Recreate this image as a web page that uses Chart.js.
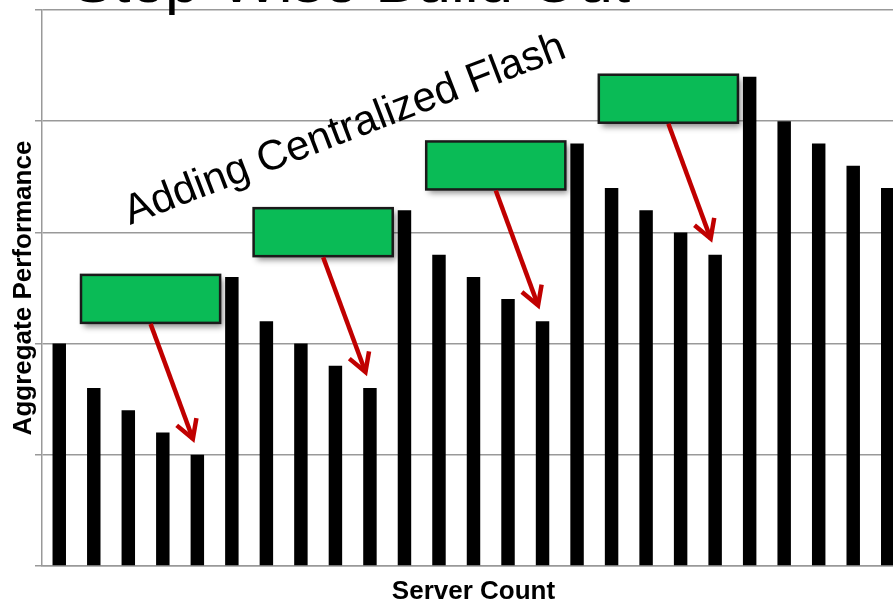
<!DOCTYPE html>
<html>
<head>
<meta charset="utf-8">
<title>Step-Wise Build Out</title>
<script src="https://cdn.jsdelivr.net/npm/chart.js@4.4.1/dist/chart.umd.min.js"></script>
<style>
  html, body { margin: 0; padding: 0; background: #fff; overflow: hidden; }
  #wrap { width: 893px; height: 604px; overflow: hidden; }
  canvas { display: block; }
</style>
</head>
<body>
<div id="wrap"><canvas id="chart" width="905" height="604"></canvas></div>
<script>
  // ── Datos ──────────────────────────────────────────────
  const SERVERS = ["1", "2", "3", "4", "5", "6", "7", "8", "9", "10",
    "11", "12", "13", "14", "15", "16", "17", "18", "19", "20",
    "21", "22", "23", "24", "25"];

  // rendimiento por escalón (cada uno añade flash centralizado)
  const STEP_1 = [2.0, 1.6, 1.4, 1.2, 1.0];
  const STEP_2 = [2.6, 2.2, 2.0, 1.8, 1.6];
  const STEP_3 = [3.2, 2.8, 2.6, 2.4, 2.2];
  const STEP_4 = [3.8, 3.4, 3.2, 3.0, 2.8];
  const STEP_5 = [4.4, 4.0, 3.8, 3.6, 3.4];
  const PERFORMANCE = STEP_1.concat(STEP_2, STEP_3, STEP_4, STEP_5);

  // índice del servidor donde entra el flash
  const FLASH_AT = [5, 10, 15, 20];

  const TITLE = "Step-Wise Build Out";
  const NOTE = "Adding Centralized Flash";
  const FONT = '"Liberation Sans", Arial, sans-serif';

  // ── Anotaciones: cajas verdes, flechas y textos ───────
  const annotations = {
    id: "annotations",
    afterDatasetsDraw: function (chart) {
      const ctx = chart.ctx;
      const xs = chart.scales.x;
      const ys = chart.scales.y;
      const w = xs.getPixelForValue(1) - xs.getPixelForValue(0);

      FLASH_AT.forEach(function (n) {
        const right = xs.getPixelForValue(n) - 0.34 * w;
        const left = right - 4.03 * w;
        const top = ys.getPixelForValue(PERFORMANCE[n]) - 2;
        const h = 48;

        // caja con sombra
        ctx.save();
        ctx.shadowColor = "rgba(0, 0, 0, 0.45)";
        ctx.shadowBlur = 6;
        ctx.shadowOffsetX = 3;
        ctx.shadowOffsetY = 4;
        ctx.fillStyle = "#0ABB56";
        ctx.fillRect(left, top, right - left, h);
        ctx.restore();
        ctx.save();
        ctx.strokeStyle = "#1a1a1a";
        ctx.lineWidth = 2.5;
        ctx.strokeRect(left, top, right - left, h);
        ctx.restore();

        // flecha hacia la última barra del escalón
        const x0 = (left + right) / 2;
        const y0 = top + h + 1;
        const x1 = xs.getPixelForValue(n - 1) - 0.13 * w;
        const y1 = ys.getPixelForValue(PERFORMANCE[n - 1]) - 16;
        const ang = Math.atan2(y1 - y0, x1 - x0);
        const head = 21;
        const spread = Math.PI / 6;

        ctx.save();
        ctx.strokeStyle = "#C00000";
        ctx.lineWidth = 4.5;
        ctx.lineJoin = "miter";
        ctx.beginPath();
        ctx.moveTo(x0, y0);
        ctx.lineTo(x1, y1);
        ctx.stroke();
        ctx.beginPath();
        ctx.moveTo(x1 + head * Math.cos(ang + Math.PI - spread),
                   y1 + head * Math.sin(ang + Math.PI - spread));
        ctx.lineTo(x1, y1);
        ctx.lineTo(x1 + head * Math.cos(ang + Math.PI + spread),
                   y1 + head * Math.sin(ang + Math.PI + spread));
        ctx.stroke();
        ctx.restore();
      });
    },
    afterDraw: function (chart) {
      const ctx = chart.ctx;
      ctx.save();
      ctx.fillStyle = "#000";
      ctx.textBaseline = "alphabetic";
      ctx.textAlign = "left";

      // título (cortado por arriba, como en la diapositiva)
      ctx.font = "62px " + FONT;
      ctx.fillText(TITLE, 72, 2);

      // texto inclinado
      ctx.translate(130, 225);
      ctx.rotate(-21 * Math.PI / 180);
      ctx.font = "42px " + FONT;
      ctx.fillText(NOTE, 0, 0);
      ctx.restore();
    }
  };

  new Chart(document.getElementById("chart"), {
    type: "bar",
    data: {
      labels: SERVERS,
      datasets: [{
        data: PERFORMANCE,
        backgroundColor: "#000",
        borderWidth: 0,
        barPercentage: 0.39,
        categoryPercentage: 1.0,
      }],
    },
    options: {
      responsive: false,
      animation: false,
      layout: { padding: { top: 10, left: 0, right: 0, bottom: 0 } },
      plugins: {
        legend: { display: false },
        tooltip: { enabled: false },
      },
      scales: {
        x: {
          grid: { display: false },
          border: { display: true, color: "#999", width: 1.5 },
          ticks: { display: false },
          title: {
            display: true,
            text: "Server Count",
            color: "#000",
            font: { family: FONT, size: 26, weight: "bold", lineHeight: 0.9 },
            padding: 0,
          },
          afterFit: function (s) { s.height = 38; },
        },
        y: {
          min: 0,
          max: 5,
          ticks: { display: false, stepSize: 1 },
          grid: { color: "#999", lineWidth: 1.5, drawTicks: true, tickLength: 7 },
          border: { display: true, color: "#999", width: 1.5 },
          title: {
            display: true,
            text: "Aggregate Performance",
            color: "#000",
            font: { family: FONT, size: 26, weight: "bold", lineHeight: 1.2 },
            padding: { top: 8, bottom: 0 },
          },
          afterFit: function (s) { s.width = 42; },
        },
      },
    },
    plugins: [annotations],
  });
</script>
</body>
</html>
